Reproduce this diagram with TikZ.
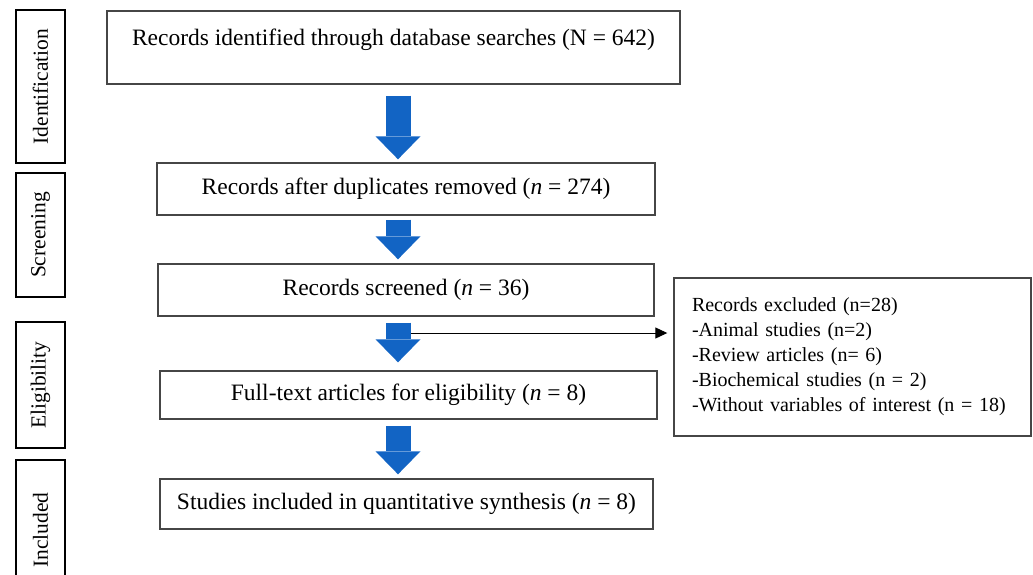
\documentclass[tikz,border=0pt]{standalone}
\usepackage{fontspec}
\setmainfont{Liberation Serif}
\usetikzlibrary{arrows.meta, positioning}
\definecolor{flowblue}{RGB}{18, 100, 196}
\definecolor{boxgray}{RGB}{70, 70, 70}

\begin{document}
\begin{tikzpicture}[
    x=1pt, y=-1pt,
    stage/.style={rectangle, draw=black, line width=2.6pt, rotate=90,
                  minimum height=49pt, inner sep=0pt, font=\fontsize{21.5}{24}\selectfont},
    stepbox/.style={rectangle, draw=boxgray, line width=1.4pt, inner sep=0pt,
                    align=center, font=\fontsize{23.5}{26}\selectfont},
    excl/.style={rectangle, draw=boxgray, line width=1.4pt, inner xsep=18pt,
                 align=left, font=\fontsize{20}{25}\selectfont},
    fat/.style={flowblue, line width=25pt,
                -{Triangle[width=45pt, length=23pt, line width=0pt]}},
    thinarr/.style={-{Triangle[length=12pt, width=11pt]}, black, line width=1pt}
  ]
  \useasboundingbox (0,0) rectangle (1033,574);

  % stage labels on the left
  \node[stage, minimum width=153pt] (ident) at (40.5,86.5) {Identification};
  \node[stage, minimum width=124pt] (scr) at (40.5,235) {Screening};
  \node[stage, minimum width=126pt] (elig) at (40.5,385) {Eligibility};
  \node[stage, minimum width=140pt] (incl) at (40.5,530) {Included};

  % main flow
  \node[stepbox, minimum width=573pt, minimum height=73pt, text depth=21pt] (found) at (393.5,47.5)
    {Records identified through database searches (N = 642)};
  \node[stepbox, minimum width=498pt, minimum height=52pt] (dedup) at (406,189)
    {Records after duplicates removed (\textit{n} = 274)};
  \node[stepbox, minimum width=496pt, minimum height=52pt] (screened) at (406,290)
    {Records screened (\textit{n} = 36)};
  \node[stepbox, minimum width=497pt, minimum height=48pt] (fulltext) at (408.5,395)
    {Full-text articles for eligibility (\textit{n} = 8)};
  \node[stepbox, minimum width=493pt, minimum height=50pt] (included) at (406.5,504)
    {Studies included in quantitative synthesis (\textit{n} = 8)};

  % excluded records
  \node[excl, text width=321pt, minimum height=158pt] (excluded) at (852.5,357)
    {Records excluded (n=28)\\
     -Animal studies (n=2)\\
     -Review articles (n= 6)\\
     -Biochemical studies (n = 2)\\
     -Without variables of interest (n = 18)};

  % arrows
  \coordinate (col) at (398,0);
  \coordinate (split) at (411,333);
  \draw[fat, shorten <=11pt, shorten >=3pt] (found.south -| col) -- (dedup.north -| col);
  \draw[fat, shorten <=4pt, shorten >=4pt] (dedup.south -| col) -- (screened.north -| col);
  \draw[fat, shorten <=6pt, shorten >=8pt] (screened.south -| col) -- (fulltext.north -| col);
  \draw[fat, shorten <=6pt, shorten >=4pt] (fulltext.south -| col) -- (included.north -| col);
  \draw[thinarr, shorten >=6pt] (split) -- (split -| excluded.west);
\end{tikzpicture}
\end{document}
